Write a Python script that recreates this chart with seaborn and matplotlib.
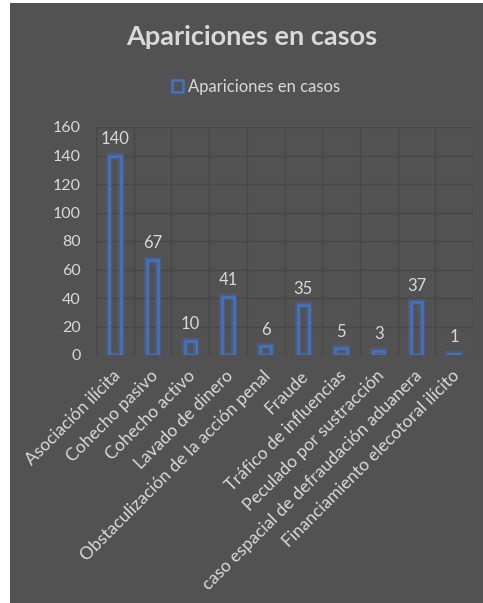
import matplotlib
matplotlib.use("Agg")
import matplotlib.pyplot as plt
import matplotlib.patheffects as pe
import matplotlib.transforms as mtransforms
from matplotlib.patches import Rectangle, Patch
import seaborn as sns
import pandas as pd

categorias = [
    "Asociación ilícita",
    "Cohecho pasivo",
    "Cohecho activo",
    "Lavado de dinero",
    "Obstaculización de la acción penal",
    "Fraude",
    "Tráfico de influencias",
    "Peculado por sustracción",
    "caso espacial de defraudación aduanera",
    "Financiamiento elecotoral ilícito",
]
apariciones = [140, 67, 10, 41, 6, 35, 5, 3, 37, 1]
y_ticks = [0, 20, 40, 60, 80, 100, 120, 140, 160]

titulo = "Apariciones en casos"
serie = "Apariciones en casos"

BG = "#525252"
GRID = "#474747"
TEXT = "#d9d9d9"
BLUE = "#4472C4"

sns.set_theme(style="dark")
plt.rcParams["font.family"] = ["Lato", "DejaVu Sans"]

fig = plt.figure(figsize=(4.83, 6.03), dpi=100)
fig.patch.set_facecolor("white")
fig.add_artist(Rectangle((10 / 483, -0.05), 1.0, 1.05 - 3 / 603,
                         transform=fig.transFigure, facecolor=BG,
                         edgecolor="none", zorder=0))

ax = fig.add_axes([96 / 483, 1 - 355 / 603, 377 / 483, 228 / 603])
ax.set_facecolor(BG)

df = pd.DataFrame({"categoria": categorias, "valor": apariciones})
sns.barplot(data=df, x="categoria", y="valor", width=0.3, ax=ax,
            facecolor="none", edgecolor=BLUE, linewidth=1.8, zorder=3)

glow = [pe.withStroke(linewidth=4.5, foreground=(0.27, 0.45, 0.77, 0.35))]
for p in ax.patches:
    p.set_path_effects(glow)

ax.bar_label(ax.containers[0], labels=[str(v) for v in apariciones],
             padding=6, color=TEXT, fontsize=12)

ax.set_ylim(0, 160)
ax.set_xlim(-0.5, len(categorias) - 0.5)
ax.set_yticks(y_ticks)
ax.set_yticklabels([str(t) for t in y_ticks], color=TEXT, fontsize=11.5)
ax.set_xticks(range(len(categorias)))
ax.set_xticklabels(categorias, rotation=45, ha="right",
                   rotation_mode="anchor", color=TEXT, fontsize=12.5)
ax.tick_params(axis="y", length=0, pad=11)
ax.tick_params(axis="x", length=0, pad=9)
shift = mtransforms.ScaledTranslation(-3 / 100, 0, fig.dpi_scale_trans)
for lbl in ax.get_xticklabels():
    lbl.set_transform(lbl.get_transform() + shift)
ax.set_xlabel("")
ax.set_ylabel("")

# grid: horizontal at each tick, vertical between categories
for t in y_ticks:
    ax.axhline(t, color=GRID, linewidth=1, zorder=1)
for i in range(len(categorias) + 1):
    ax.axvline(i - 0.5, color=GRID, linewidth=1, zorder=1)
for s in ax.spines.values():
    s.set_visible(False)

fig.text(252 / 483, 1 - 37 / 603, titulo, ha="center", va="center",
         color=TEXT, fontsize=19.5, fontweight="bold")

handle = Patch(facecolor="none", edgecolor=BLUE, linewidth=1.8)
leg = fig.legend([handle], [serie], loc="center",
                 bbox_to_anchor=(256 / 483, 1 - 87 / 603), frameon=False,
                 fontsize=12, handlelength=0.7, handleheight=0.7,
                 handletextpad=0.3)
for t in leg.get_texts():
    t.set_color(TEXT)

fig.savefig("out.png", dpi=100, facecolor=fig.get_facecolor())
